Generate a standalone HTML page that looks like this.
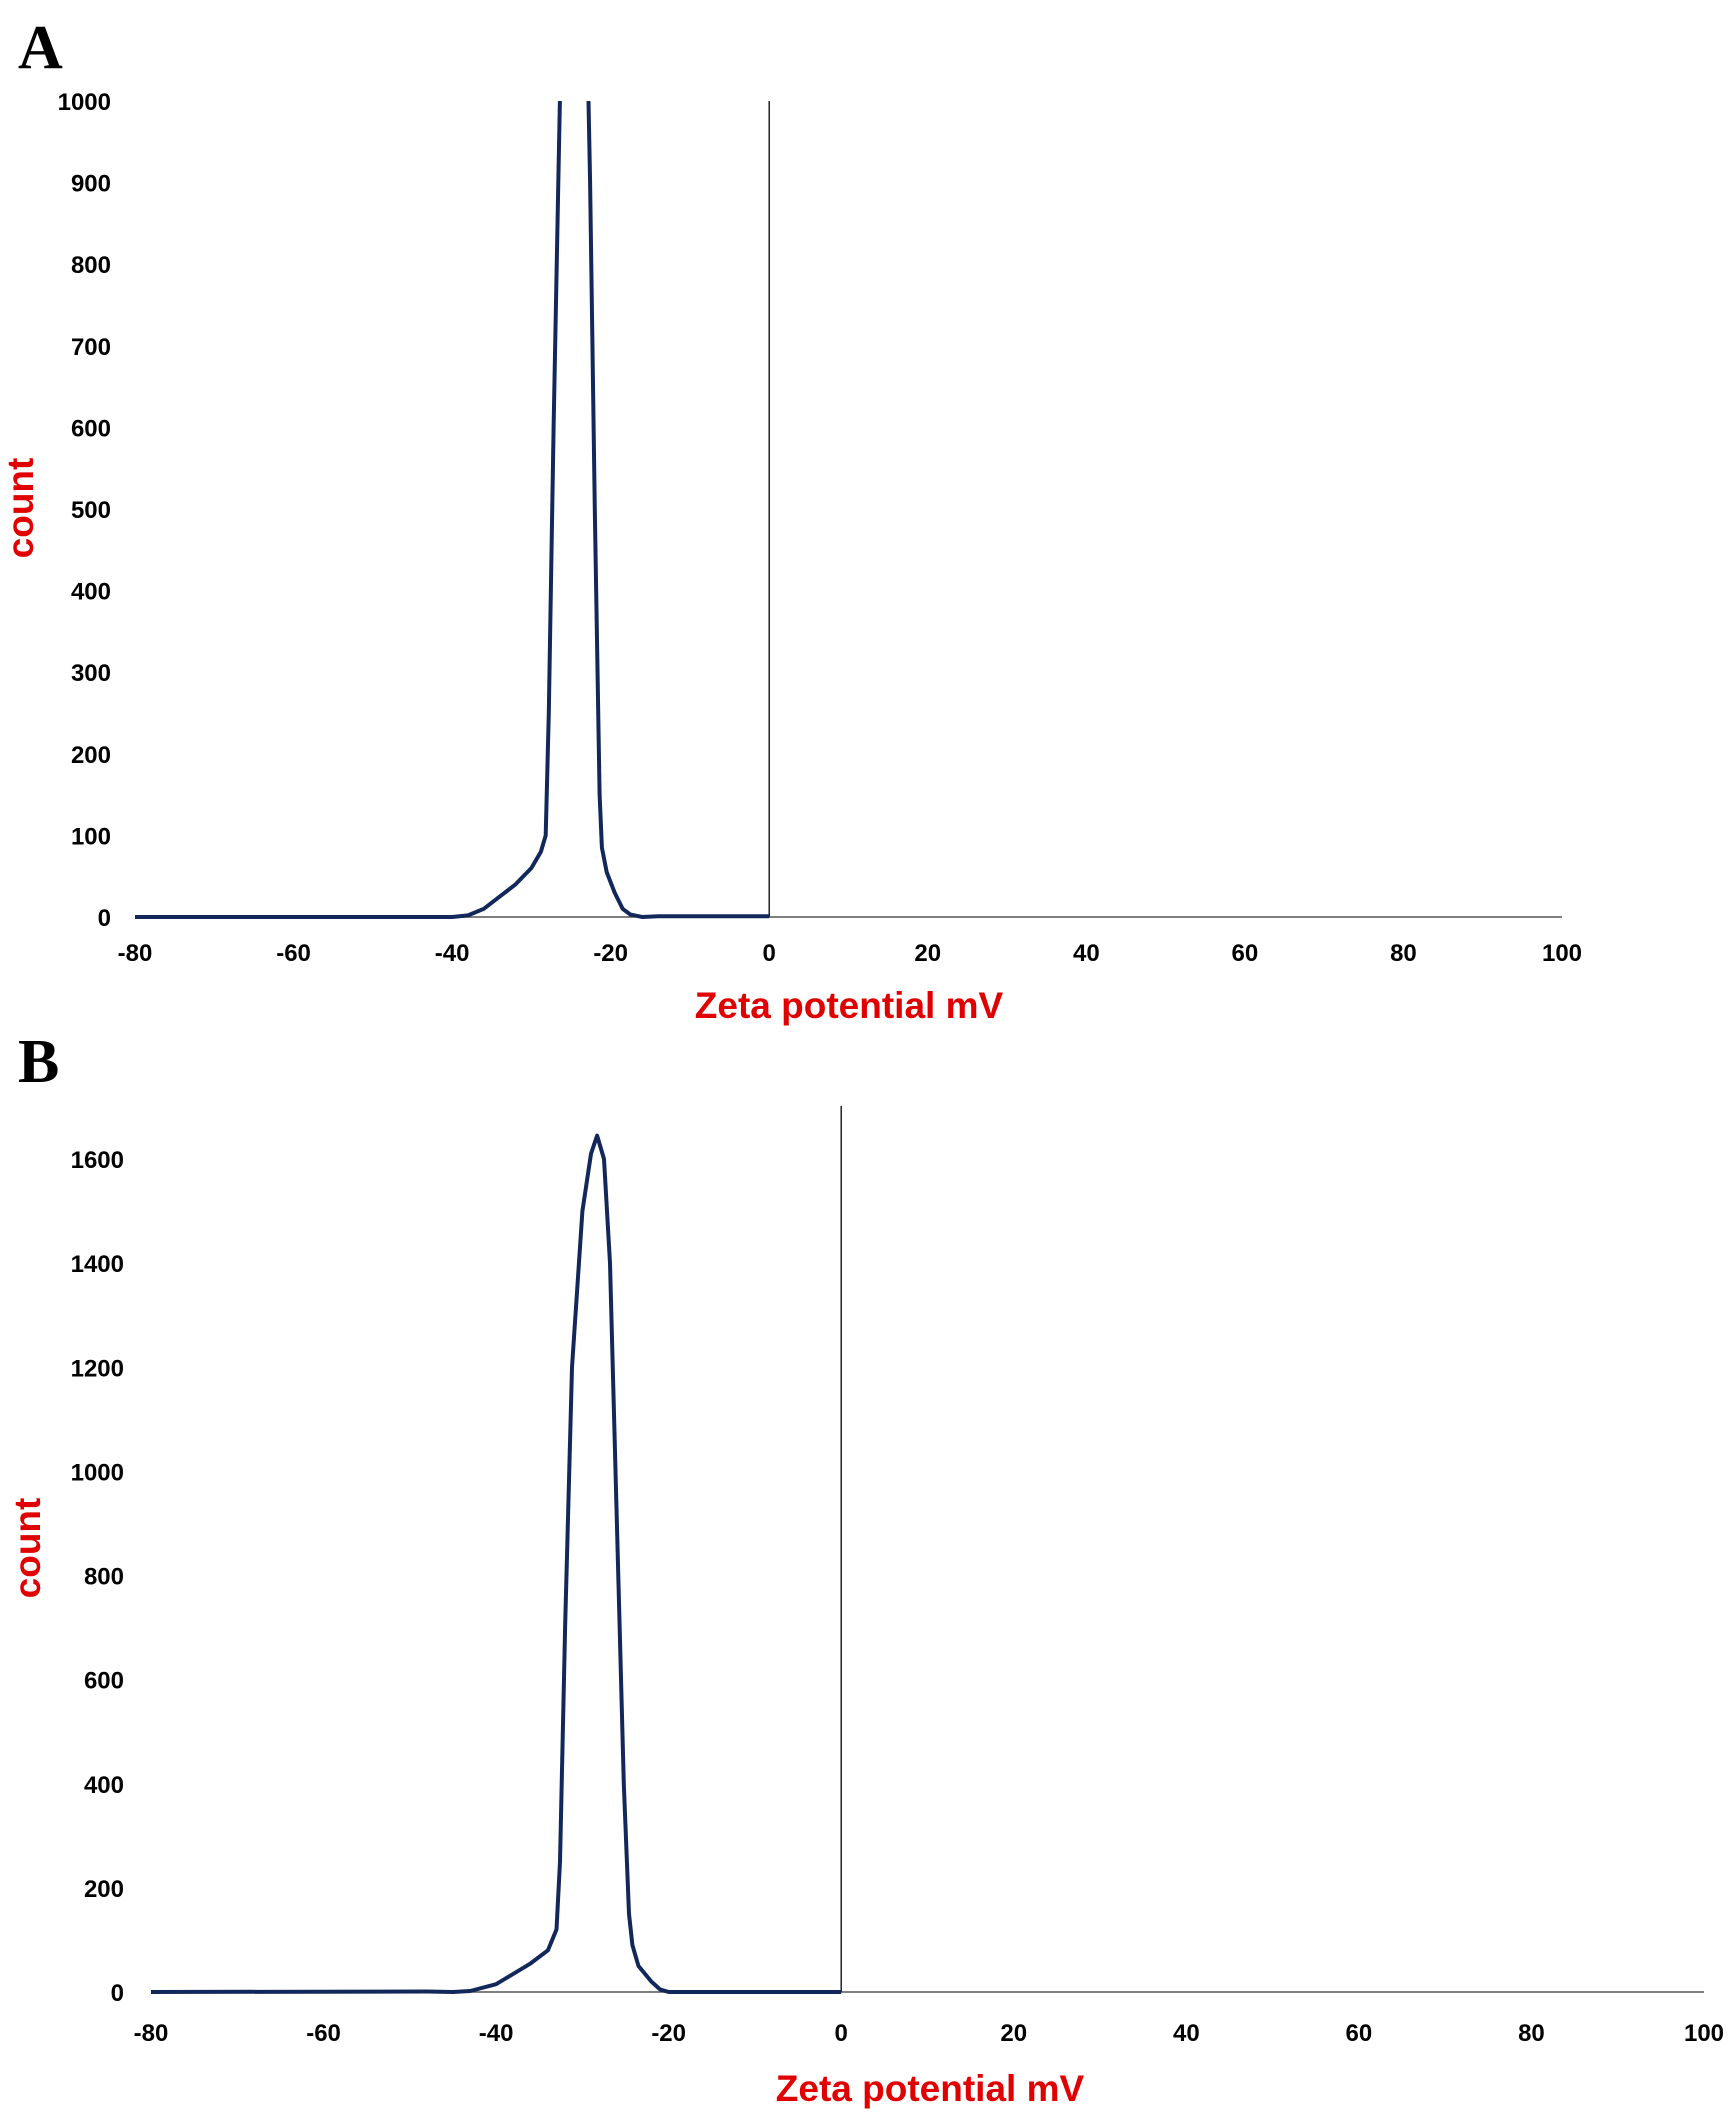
<!DOCTYPE html>
<html><head><meta charset="utf-8"><style>
body{margin:0;background:#fff;}
svg{display:block;}
.tick{font-family:"Liberation Sans",sans-serif;font-weight:bold;font-size:24px;fill:#000;}
.ttl{font-family:"Liberation Sans",sans-serif;font-weight:bold;font-size:37px;fill:#e00000;}
.pl{font-family:"Liberation Serif",serif;font-weight:bold;font-size:62px;fill:#000;}
</style></head><body>
<svg id="s" width="1735" height="2116" viewBox="0 0 1735 2116">
<text class="pl" x="18" y="68">A</text>
<text class="pl" x="18" y="1082">B</text>
</svg>
<script>
const xTicks=[-80,-60,-40,-20,0,20,40,60,80,100];
const aYTicks=[0,100,200,300,400,500,600,700,800,900,1000];
const bYTicks=[0,200,400,600,800,1000,1200,1400,1600];
const aX=[-80,-45,-40,-38,-36,-34,-32,-30,-28.8,-28.2,-27.8,-27.2,-26.6,-25.8,-24.6,-23.4,-22.6,-22,-21.4,-21.1,-20.5,-19.5,-18.5,-17.5,-16,-14,0];
const aY=[0,0,0,2,10,25,40,60,80,100,250,600,900,1300,1550,1300,900,500,150,85,55,30,10,3,0,1,1];
const bX=[-80,-48,-45,-43,-40,-38,-36,-34,-33,-32.6,-32,-31.2,-30,-29,-28.3,-27.5,-26.8,-26,-25.2,-24.6,-24.2,-23.5,-22,-21,-20,-18,0];
const bY=[0,1,0,2,15,35,55,80,120,250,700,1200,1500,1610,1645,1600,1400,900,400,150,90,50,20,5,0,0,0];
const NS="http://www.w3.org/2000/svg";
const svg=document.getElementById('s');
function mk(t,a,p){const e=document.createElementNS(NS,t);for(const k in a)e.setAttribute(k,a[k]);(p||svg).appendChild(e);return e;}
function chart(id,cfg){
  const g=mk('g',{});
  
  
  const sx=v=>cfg.x0+(v+80)/180*(cfg.x1-cfg.x0);
  const sy=v=>cfg.y0-v/cfg.yv*(cfg.y0-cfg.yt);
  const cp=mk('clipPath',{id:'clip'+id},g);
  mk('rect',{x:0,y:cfg.clipTop,width:1735,height:2116},cp);
  const xa=mk('line',{x1:sx(-80),x2:sx(100),y1:sy(0),y2:sy(0),stroke:'#555','stroke-width':1.5},g);
  
  
  const va=mk('line',{x1:sx(0),x2:sx(0),y1:cfg.vTop,y2:sy(0),stroke:'#222','stroke-width':1.5},g);
  
  
  cfg.yt_.forEach(v=>{const t=mk('text',{x:cfg.ylx,y:sy(v)+9,'text-anchor':'end',class:'tick'},g);t.textContent=v;
    
    });
  xTicks.forEach(v=>{const t=mk('text',{x:sx(v),y:cfg.xly,'text-anchor':'middle',class:'tick'},g);t.textContent=v;
    
    });
  const pts=cfg.xs.map((x,i)=>sx(x).toFixed(1)+','+sy(cfg.ys[i]).toFixed(1)).join(' ');
  const pl=mk('polyline',{points:pts,fill:'none',stroke:'#13285a','stroke-width':4,'stroke-linejoin':'round','clip-path':'url(#clip'+id+')'},g);
  
  
  const xt=mk('text',{x:cfg.xtx,y:cfg.xty,'text-anchor':'middle',class:'ttl'},g);xt.textContent='Zeta potential mV';
  
  
  const yt=mk('text',{x:0,y:0,'text-anchor':'middle',class:'ttl',transform:`translate(${cfg.ytx},${cfg.yty}) rotate(-90)`},g);yt.textContent='count';
  
  
}
chart('a',{x0:135,x1:1562,y0:917,yt:101,yv:1000,clipTop:101,vTop:101,ylx:111,xly:961,yt_:aYTicks,xs:aX,ys:aY,xtx:849,xty:1018,ytx:33,yty:508});
chart('b',{x0:151,x1:1704,y0:1992,yt:1159,yv:1600,clipTop:0,vTop:1106,ylx:124,xly:2041,yt_:bYTicks,xs:bX,ys:bY,xtx:930,xty:2101,ytx:40,yty:1548});
</script>
</body></html>
